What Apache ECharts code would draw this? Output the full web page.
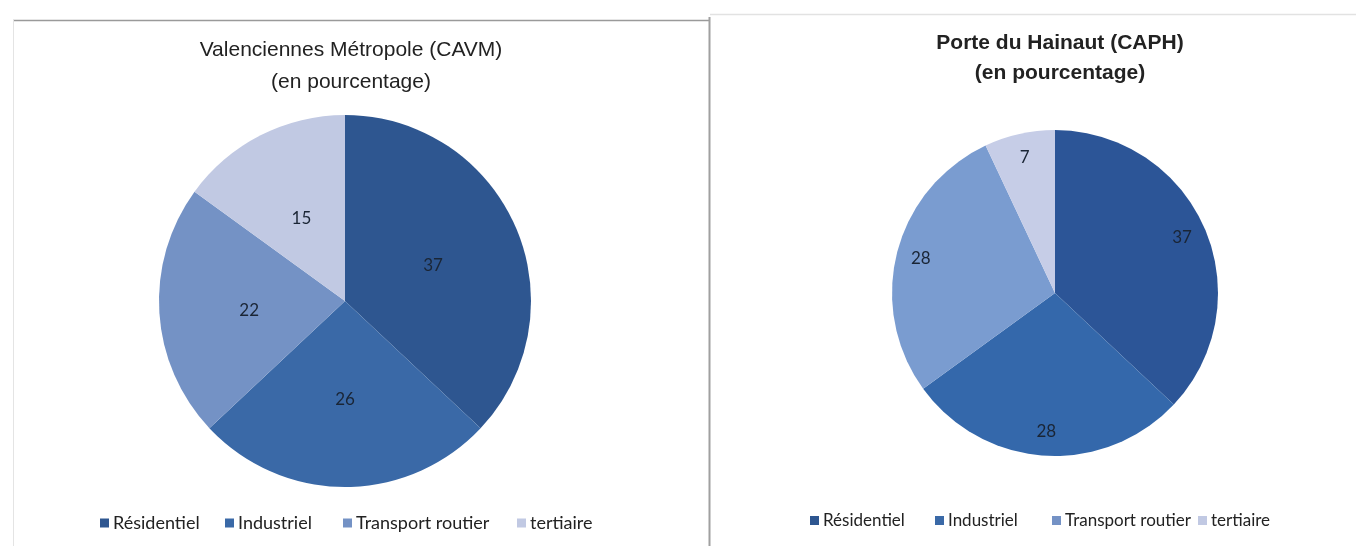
<!DOCTYPE html>
<html><head><meta charset="utf-8">
<script src="https://cdn.jsdelivr.net/npm/echarts@6/dist/echarts.min.js"></script>
<style>html,body{margin:0;padding:0;background:#fff}#c{width:1356px;height:546px}</style>
</head><body><div id="c"></div>
<script>
const categories = ['Résidentiel', 'Industriel', 'Transport routier', 'tertiaire'];
const valuesCAVM = [37, 26, 22, 15];
const valuesCAPH = [37, 28, 28, 7];
const titleCAVM = 'Valenciennes Métropole (CAVM)\n(en pourcentage)';
const titleCAPH = 'Porte du Hainaut (CAPH)\n(en pourcentage)';

const colorsL = ['#2e5690', '#3a69a7', '#7492c5', '#c1c9e3'];
const colorsR = ['#2c5597', '#3468ab', '#7a9cd0', '#c6cde7'];

const chart = echarts.init(document.getElementById('c'));
const mk = (vals, cols) => categories.map((n, i) => ({ name: n, value: vals[i], itemStyle: { color: cols[i] } }));
const lblFont = 'Lato, "Open Sans", sans-serif';

const legendPosL = [95, 220, 338, 512];
const legendPosR = [805, 930, 1047, 1193];
const legends = [];
categories.forEach((n, i) => {
  legends.push({ data: [n], left: legendPosL[i], top: 509, icon: 'rect', itemWidth: 9, itemHeight: 9, itemGap: 0,
    textStyle: { fontFamily: lblFont, fontSize: 18, color: '#222', padding: [0, 0, 0, -1] }, selectedMode: false });
  legends.push({ data: [n], left: legendPosR[i], top: 507, icon: 'rect', itemWidth: 9, itemHeight: 9, itemGap: 0,
    textStyle: { fontFamily: lblFont, fontSize: 17, color: '#222', padding: [0, 0, 0, -1] }, selectedMode: false });
});

chart.setOption({
  animation: false,
  title: [
    { text: titleCAVM, left: 346, textAlign: 'center', top: 29,
      textStyle: { fontFamily: '"Liberation Sans Narrow", "Liberation Sans", Arial, sans-serif', fontSize: 21, fontWeight: 'normal', color: '#222', lineHeight: 32 } },
    { text: titleCAPH, left: 1055, textAlign: 'center', top: 23,
      textStyle: { fontFamily: '"Liberation Sans Narrow", "Liberation Sans", Arial, sans-serif', fontSize: 21, fontWeight: 'bold', color: '#222', lineHeight: 30 } }
  ],
  legend: legends,
  graphic: [
    { type: 'line', shape: { x1: 13, y1: 20.5, x2: 709, y2: 20.5 }, style: { stroke: '#9a9a9a', lineWidth: 1.5 } },
    { type: 'line', shape: { x1: 13.5, y1: 20, x2: 13.5, y2: 546 }, style: { stroke: '#e4e4e4', lineWidth: 1 } },
    { type: 'line', shape: { x1: 709.5, y1: 17, x2: 709.5, y2: 546 }, style: { stroke: '#a0a0a0', lineWidth: 2 } },
    { type: 'line', shape: { x1: 710, y1: 14.5, x2: 1356, y2: 14.5 }, style: { stroke: '#e2e2e2', lineWidth: 1.5 } }
  ],
  series: [
    { type: 'pie', name: 'CAVM', center: [345, 301], radius: [0, 186], startAngle: 90, clockwise: true,
      data: mk(valuesCAVM, colorsL),
      label: { position: 'inside', formatter: '{c}', fontFamily: lblFont, fontSize: 17, color: '#1a2535', offset: [0, 3] },
      labelLine: { show: false }, emphasis: { disabled: true } },
    { type: 'pie', name: 'CAPH', center: [1055, 293], radius: [0, 163], startAngle: 90, clockwise: true,
      data: mk(valuesCAPH, colorsR),
      label: { show: false }, labelLine: { show: false }, emphasis: { disabled: true } },
    { type: 'pie', name: 'CAPHlabels', center: [1055, 293], radius: [108, 163], startAngle: 90, clockwise: true, silent: true,
      data: categories.map((n, i) => ({ name: n, value: valuesCAPH[i], itemStyle: { color: 'rgba(0,0,0,0)' } })),
      label: { position: 'inside', formatter: '{c}', fontFamily: lblFont, fontSize: 17, color: '#1a2535' },
      labelLine: { show: false }, emphasis: { disabled: true } }
  ]
});
</script></body></html>
